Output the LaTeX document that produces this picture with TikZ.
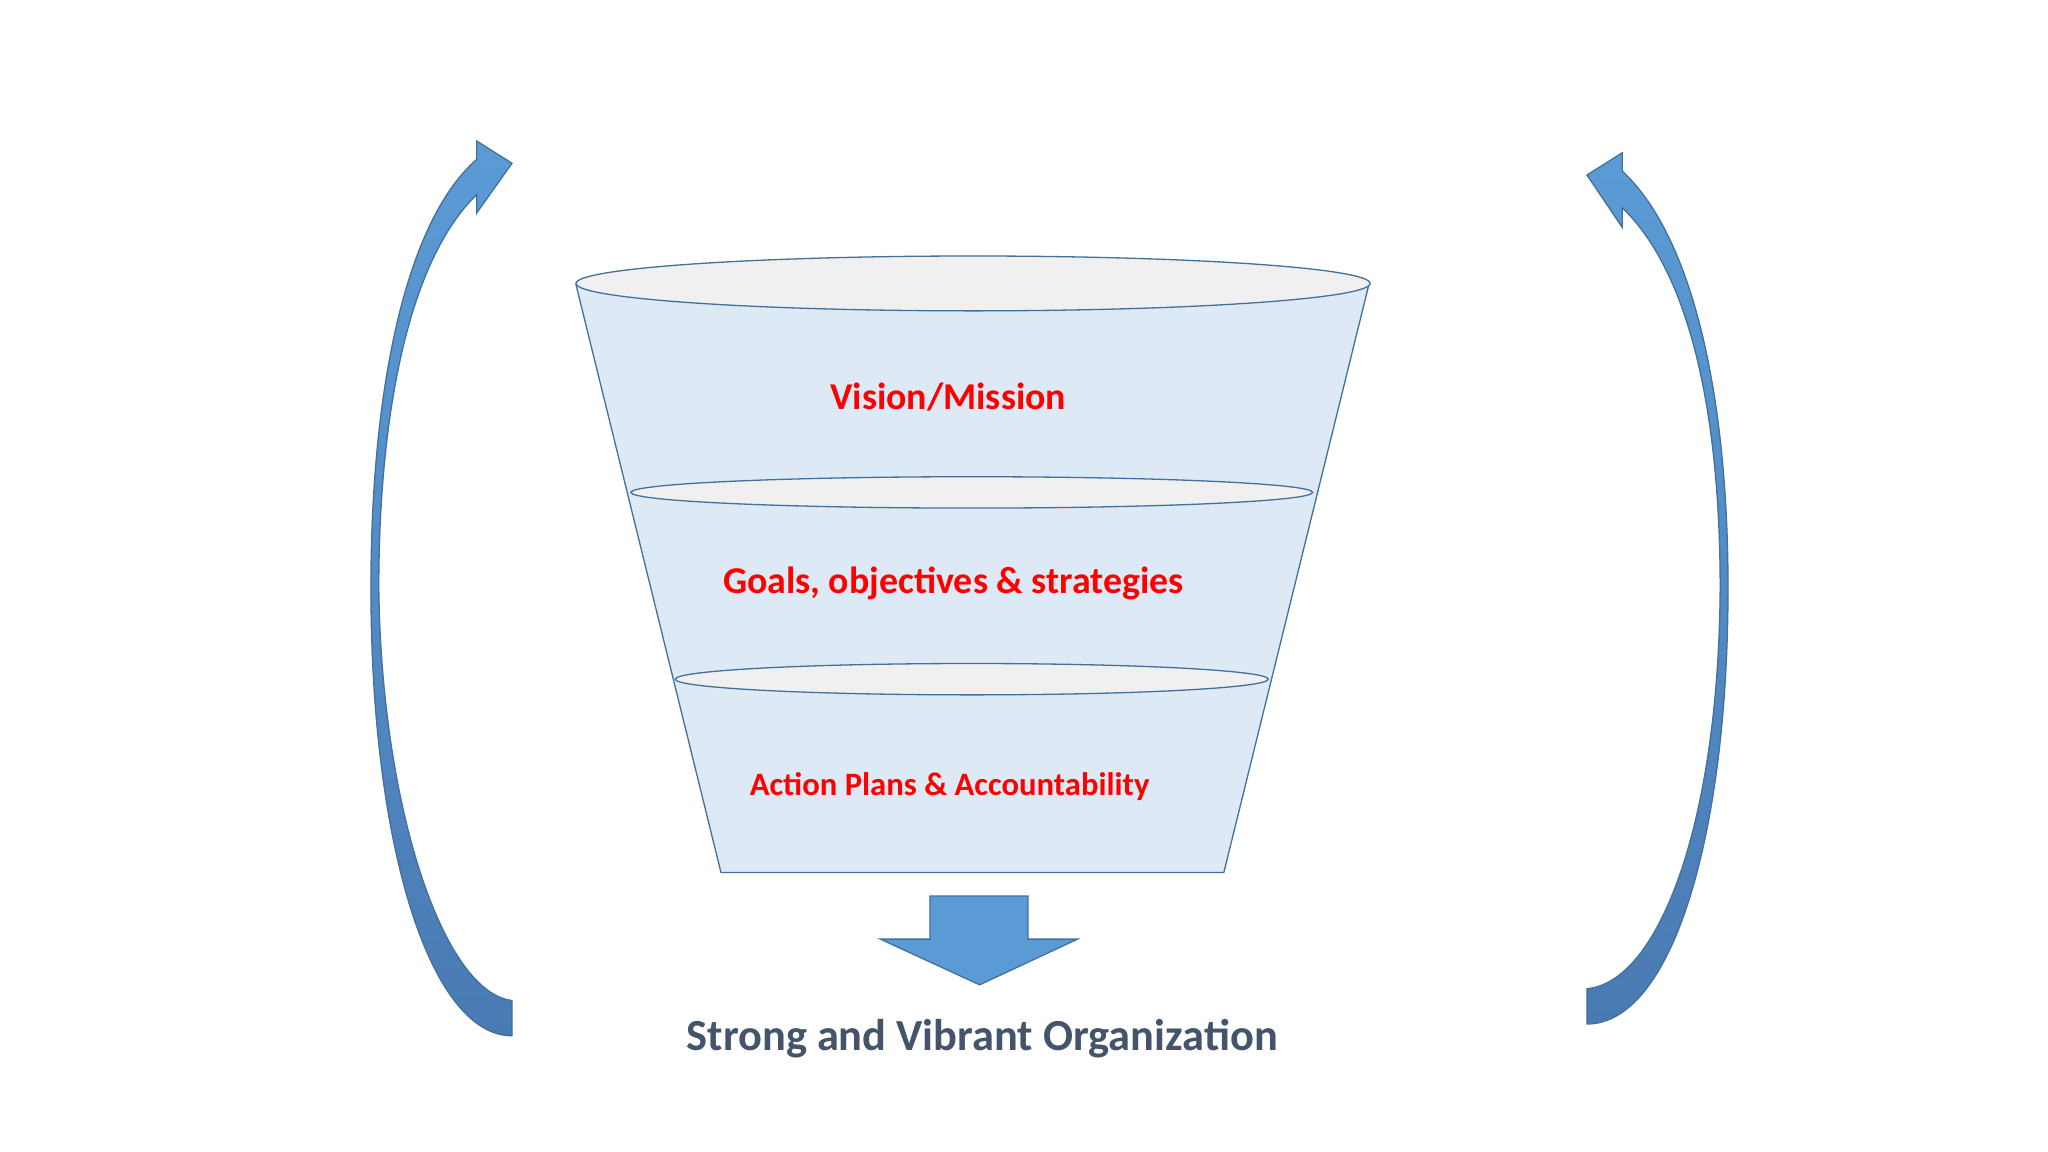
\documentclass[tikz,border=0pt]{standalone}
\usepackage{fontspec}
\setmainfont{Carlito}
\definecolor{ln}{HTML}{41719C}
\definecolor{af}{HTML}{5B9BD5}
\definecolor{ad}{HTML}{4A7AB3}
\definecolor{fn}{HTML}{DEE9F6}
\definecolor{el}{HTML}{F0F0F0}
\definecolor{tx}{HTML}{44546A}
\begin{document}
\begin{tikzpicture}[x=1pt,y=-1pt,
  shp/.style={draw=ln,line width=1pt},
  arr/.style={shp,top color=af,bottom color=ad},
  lab/.style={text=red,font=\bfseries\fontsize{29}{32}\selectfont}]
\useasboundingbox[fill=white] (0,0) rectangle (1568,882);
% funnel
\path[shp,fill=fn] (441,218) -- (552,668) -- (937,668) -- (1048,218) -- cycle;
\path[shp,fill=el] (745,217) ellipse [x radius=304,y radius=21];
\path[shp,fill=el] (744,377) ellipse [x radius=261,y radius=12];
\path[shp,fill=el] (744,520) ellipse [x radius=227,y radius=12];
\node[lab] (v) at (726,304) {Vision/Mission};
\node[lab] (g) at (730,447) {Goals, objectives \& strategies};
\node[lab,font=\bfseries\fontsize{25}{28}\selectfont] (a) at (727,602) {Action Plans \& Accountability};
% down arrow
\path[shp,fill=af] (712,686) -- (787,686) -- (787,719) -- (825,719) -- (750,754) -- (674,719) -- (712,719) -- cycle;
\node[text=tx,font=\bfseries\fontsize{34}{38}\selectfont] (s) at (752,795) {Strong and Vibrant Organization};
% left curved arrow
\path[arr] (392,793) .. controls (330,793) and (284,650) .. (284,450)
  .. controls (284,300) and (310,170) .. (365,122) -- (365,108) -- (392,125) -- (365,163) -- (365,149)
  .. controls (312,200) and (290,320) .. (290,450)
  .. controls (292,620) and (340,760) .. (392,766) -- cycle;
% right curved arrow
\path[arr] (1215,784) .. controls (1280,784) and (1323,640) .. (1323,450)
  .. controls (1323,300) and (1295,180) .. (1242,131) -- (1242,117) -- (1215,134) -- (1242,174) -- (1242,159)
  .. controls (1295,210) and (1317,320) .. (1317,450)
  .. controls (1316,630) and (1270,752) .. (1215,757) -- cycle;
\end{tikzpicture}
\end{document}
